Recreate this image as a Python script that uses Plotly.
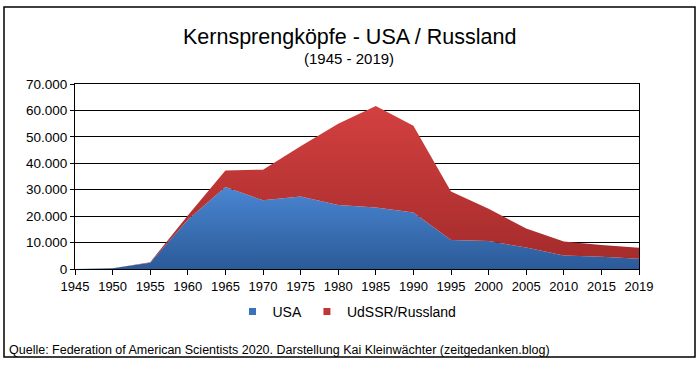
import plotly.graph_objects as go

years = ["1945", "1950", "1955", "1960", "1965", "1970", "1975", "1980",
         "1985", "1990", "1995", "2000", "2005", "2010", "2015", "2019"]
usa = [0, 300, 2400, 18600, 31000, 26000, 27400, 24200,
       23300, 21400, 11000, 10600, 8100, 5100, 4600, 3900]
udssr = [0, 0, 200, 1600, 6300, 11600, 19000, 30800,
         38400, 32800, 18300, 12200, 7200, 5300, 4500, 4100]
y_ticks = [0, 10000, 20000, 30000, 40000, 50000, 60000, 70000]

series_names = ["USA", "UdSSR/Russland"]
title = "Kernsprengköpfe - USA / Russland"
subtitle = "(1945 - 2019)"
source = "Quelle: Federation of American Scientists 2020. Darstellung Kai Kleinwächter (zeitgedanken.blog)"

FONT = "Liberation Sans, Arial, sans-serif"
BLUE_SCALE = [[0, "#2b5a98"], [1, "#4a86d2"]]
RED_SCALE = [[0, "#a32a2a"], [1, "#d34040"]]

fig = go.Figure()
fig.add_trace(go.Scatter(
    x=years, y=usa, name=series_names[0], stackgroup="one", mode="none",
    fillgradient=dict(type="vertical", colorscale=BLUE_SCALE),
    fillcolor="#3a72bc", showlegend=False,
))
fig.add_trace(go.Scatter(
    x=years, y=udssr, name=series_names[1], stackgroup="one", mode="none",
    fillgradient=dict(type="vertical", colorscale=RED_SCALE),
    fillcolor="#c03535", showlegend=False,
))
# legend entries with small square markers
for name, col in zip(series_names, ["#3a72bc", "#c03535"]):
    fig.add_trace(go.Scatter(
        x=[None], y=[None], name=name, mode="markers",
        marker=dict(symbol="square", size=7, color=col),
    ))

L, R, T, B = 75, 639, 84, 269
W, H = R - L, B - T

def px(x):
    return (x - L) / W

def py(y):
    return (B - y) / H

fig.add_shape(type="rect", xref="paper", yref="paper",
              x0=px(4), x1=px(695), y0=py(357), y1=py(7),
              line=dict(color="#000000", width=1.5), layer="below")

fig.add_annotation(text=title, xref="paper", yref="paper", x=px(349), y=py(37),
                   showarrow=False, font=dict(size=21.5, color="#000", family=FONT),
                   xanchor="center", yanchor="middle")
fig.add_annotation(text=subtitle, xref="paper", yref="paper", x=px(349), y=py(58),
                   showarrow=False, font=dict(size=15, color="#000", family=FONT),
                   xanchor="center", yanchor="middle")
fig.add_annotation(text=source, xref="paper", yref="paper", x=px(7), y=py(350),
                   showarrow=False, font=dict(size=12.5, color="#000", family=FONT),
                   xanchor="left", yanchor="middle")

fig.update_layout(
    width=700, height=365,
    margin=dict(l=L, r=700 - R, t=T, b=365 - B, autoexpand=False),
    paper_bgcolor="white", plot_bgcolor="white",
    separators=",.",
    font=dict(family=FONT, size=13, color="#000"),
    showlegend=True,
    legend=dict(orientation="h", x=px(347), xanchor="center", y=py(312),
                yanchor="middle", font=dict(size=14), itemwidth=30,
                traceorder="normal", bgcolor="rgba(0,0,0,0)"),
)
fig.update_xaxes(
    type="category", range=[0, len(years) - 1],
    showline=True, linecolor="#000", linewidth=1, mirror=True,
    ticks="outside", ticklen=5, tickcolor="#000",
    showgrid=False, tickfont=dict(size=13), automargin=False,
)
fig.update_yaxes(
    range=[0, 70000], tickvals=y_ticks, tickformat=",d",
    showline=True, linecolor="#000", linewidth=1, mirror=True,
    ticks="outside", ticklen=4, tickcolor="#000",
    showgrid=True, gridcolor="#000", gridwidth=1,
    tickfont=dict(size=13.5), zeroline=False, automargin=False,
)

fig.write_html("out.html", config={"displayModeBar": False},
               post_script="document.body.style.margin='0';document.body.style.overflow='hidden';")
